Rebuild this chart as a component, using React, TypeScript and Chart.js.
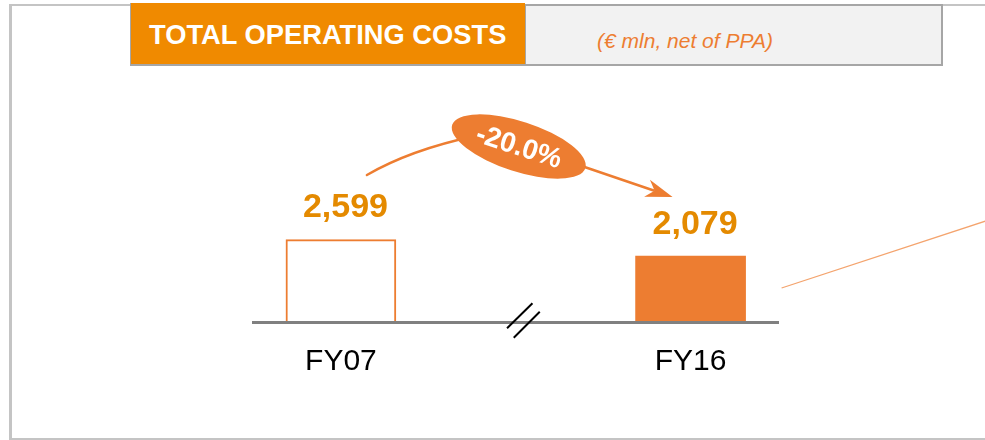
import React, { useEffect, useRef } from "react";
import { Chart, registerables } from "chart.js";

Chart.register(...registerables);

const FONT = '"Liberation Sans", Arial, Helvetica, sans-serif';
const ORANGE = "#ED7D31";
const LABEL_ORANGE = "#E48A00";

// Data
const categories: string[] = ["FY07", "", "FY16"];
const operatingCosts: (number | null)[] = [2599, null, 2079];
const yAxisMax = 3000;

const titleText = "TOTAL OPERATING COSTS";
const subtitleText = "(€ mln, net of PPA)";

const changePct = ((operatingCosts[2] as number) / (operatingCosts[0] as number) - 1) * 100;
const changeLabel = `${changePct.toFixed(1)}%`;

const decorPlugin = {
  id: "decor",
  afterDraw(chart: any) {
    const ctx: CanvasRenderingContext2D = chart.ctx;
    const meta = chart.getDatasetMeta(0);
    const base = chart.scales.y.getPixelForValue(0);
    const b0 = meta.data[0];
    const b2 = meta.data[2];
    const c0 = b0.x;
    const c2 = b2.x;
    const mid = chart.scales.x.getPixelForValue(1);

    ctx.save();
    // value labels
    ctx.font = `bold 34px ${FONT}`;
    ctx.fillStyle = LABEL_ORANGE;
    ctx.textAlign = "center";
    ctx.textBaseline = "alphabetic";
    meta.data.forEach((el: any, i: number) => {
      const v = operatingCosts[i];
      if (v == null) return;
      ctx.fillText(v.toLocaleString("en-US"), el.x + 4.5, el.y - 22.5);
    });

    // arrow
    const S = { x: c2 - 106, y: base - 155 };
    const T = { x: c2 - 18, y: base - 125 };
    const len = Math.hypot(T.x - S.x, T.y - S.y);
    const d = { x: (T.x - S.x) / len, y: (T.y - S.y) / len };
    const n = { x: -d.y, y: d.x };
    ctx.strokeStyle = ORANGE;
    ctx.lineWidth = 2.5;
    ctx.lineCap = "round";
    ctx.beginPath();
    ctx.moveTo(c0 + 26, base - 147);
    ctx.quadraticCurveTo(c0 + 69, base - 172, c0 + 134, base - 186);
    ctx.lineTo(S.x, S.y);
    ctx.lineTo(T.x - 20 * d.x, T.y - 20 * d.y);
    ctx.stroke();
    ctx.fillStyle = ORANGE;
    ctx.beginPath();
    ctx.moveTo(T.x, T.y);
    ctx.lineTo(T.x - 27 * d.x + 9 * n.x, T.y - 27 * d.y + 9 * n.y);
    ctx.lineTo(T.x - 19 * d.x, T.y - 19 * d.y);
    ctx.lineTo(T.x - 27 * d.x - 9 * n.x, T.y - 27 * d.y - 9 * n.y);
    ctx.closePath();
    ctx.fill();

    // ellipse badge
    const ex = mid + 3;
    const ey = base - 175.5;
    const rot = (18 * Math.PI) / 180;
    ctx.beginPath();
    ctx.ellipse(ex, ey, 70, 25, rot, 0, Math.PI * 2);
    ctx.fill();
    ctx.translate(ex, ey + 1);
    ctx.rotate(rot);
    ctx.fillStyle = "#FFFFFF";
    ctx.font = `bold 28px ${FONT}`;
    ctx.textAlign = "center";
    ctx.textBaseline = "middle";
    ctx.fillText(changeLabel, 0, 0);
    ctx.setTransform(1, 0, 0, 1, 0, 0);

    // axis break marks
    ctx.strokeStyle = "#000000";
    ctx.lineWidth = 2;
    ctx.lineCap = "butt";
    ctx.beginPath();
    ctx.moveTo(mid - 8.7, base + 6.3);
    ctx.lineTo(mid + 16.7, base - 18.7);
    ctx.moveTo(mid - 2, base + 15.7);
    ctx.lineTo(mid + 24, base - 10.3);
    ctx.stroke();

    // thin connector line
    ctx.strokeStyle = "#F4A46E";
    ctx.lineWidth = 1.3;
    ctx.beginPath();
    ctx.moveTo(c2 + 91, base - 34);
    ctx.lineTo(c2 + 300, base - 102.6);
    ctx.stroke();
    ctx.restore();
  },
};

export default function App() {
  const ref = useRef<HTMLCanvasElement | null>(null);

  useEffect(() => {
    if (!ref.current) return;
    const chart = new Chart(ref.current, {
      type: "bar",
      data: {
        labels: categories,
        datasets: [
          {
            data: operatingCosts,
            barThickness: 110,
            backgroundColor: (c: any) => (c.dataIndex === 0 ? "#FFFFFF" : ORANGE),
            borderColor: ORANGE,
            borderWidth: (c: any) => (c.dataIndex === 0 ? 2 : 0),
            borderSkipped: "start",
          },
        ],
      },
      options: {
        responsive: false,
        animation: false,
        events: [],
        layout: { padding: { left: 253.5, right: 207, top: 227, bottom: 0 } },
        plugins: { legend: { display: false }, tooltip: { enabled: false } },
        scales: {
          x: {
            type: "category",
            offset: true,
            grid: { display: false, drawTicks: false },
            border: { display: true, color: "#808080", width: 3, z: 1 },
            ticks: {
              color: "#000000",
              font: { family: FONT, size: 30 },
              padding: 22,
              maxRotation: 0,
              autoSkip: false,
            },
            afterFit: (s: any) => {
              s.height = 118;
            },
          },
          y: { display: false, min: 0, max: yAxisMax },
        },
      },
      plugins: [decorPlugin],
    } as any);
    return () => chart.destroy();
  }, []);

  return (
    <div
      style={{
        position: "absolute",
        left: 0,
        top: 0,
        width: 985,
        height: 440,
        overflow: "hidden",
        background: "#FFFFFF",
        fontFamily: FONT,
      }}
    >
      <div
        style={{
          position: "absolute",
          left: 9,
          top: 4,
          width: 1200,
          height: 436,
          boxSizing: "border-box",
          border: "2px solid #C4C4C4",
          borderLeftWidth: 3,
        }}
      />
      <div
        style={{
          position: "absolute",
          left: 524,
          top: 4,
          width: 419,
          height: 62,
          boxSizing: "border-box",
          border: "2px solid #A6A6A6",
          background: "#F2F2F2",
        }}
      />
      <div
        style={{
          position: "absolute",
          left: 130,
          top: 3,
          width: 395,
          height: 63,
          boxSizing: "border-box",
          background: "#F08A00",
          borderLeft: "1px solid #A6A6A6",
          borderBottom: "2px solid #A6A6A6",
        }}
      />
      <div
        style={{
          position: "absolute",
          left: 149,
          top: 20.6,
          fontSize: 27.3,
          lineHeight: "27.3px",
          fontWeight: "bold",
          color: "#FFFFFF",
          whiteSpace: "nowrap",
        }}
      >
        {titleText}
      </div>
      <div
        style={{
          position: "absolute",
          left: 585,
          top: 29.7,
          width: 200,
          textAlign: "center",
          fontSize: 21,
          lineHeight: "21px",
          fontStyle: "italic",
          color: ORANGE,
          whiteSpace: "nowrap",
        }}
      >
        {subtitleText}
      </div>
      <canvas
        ref={ref}
        width={985}
        height={440}
        style={{ position: "absolute", left: 0, top: 0, width: 985, height: 440 }}
      />
    </div>
  );
}
